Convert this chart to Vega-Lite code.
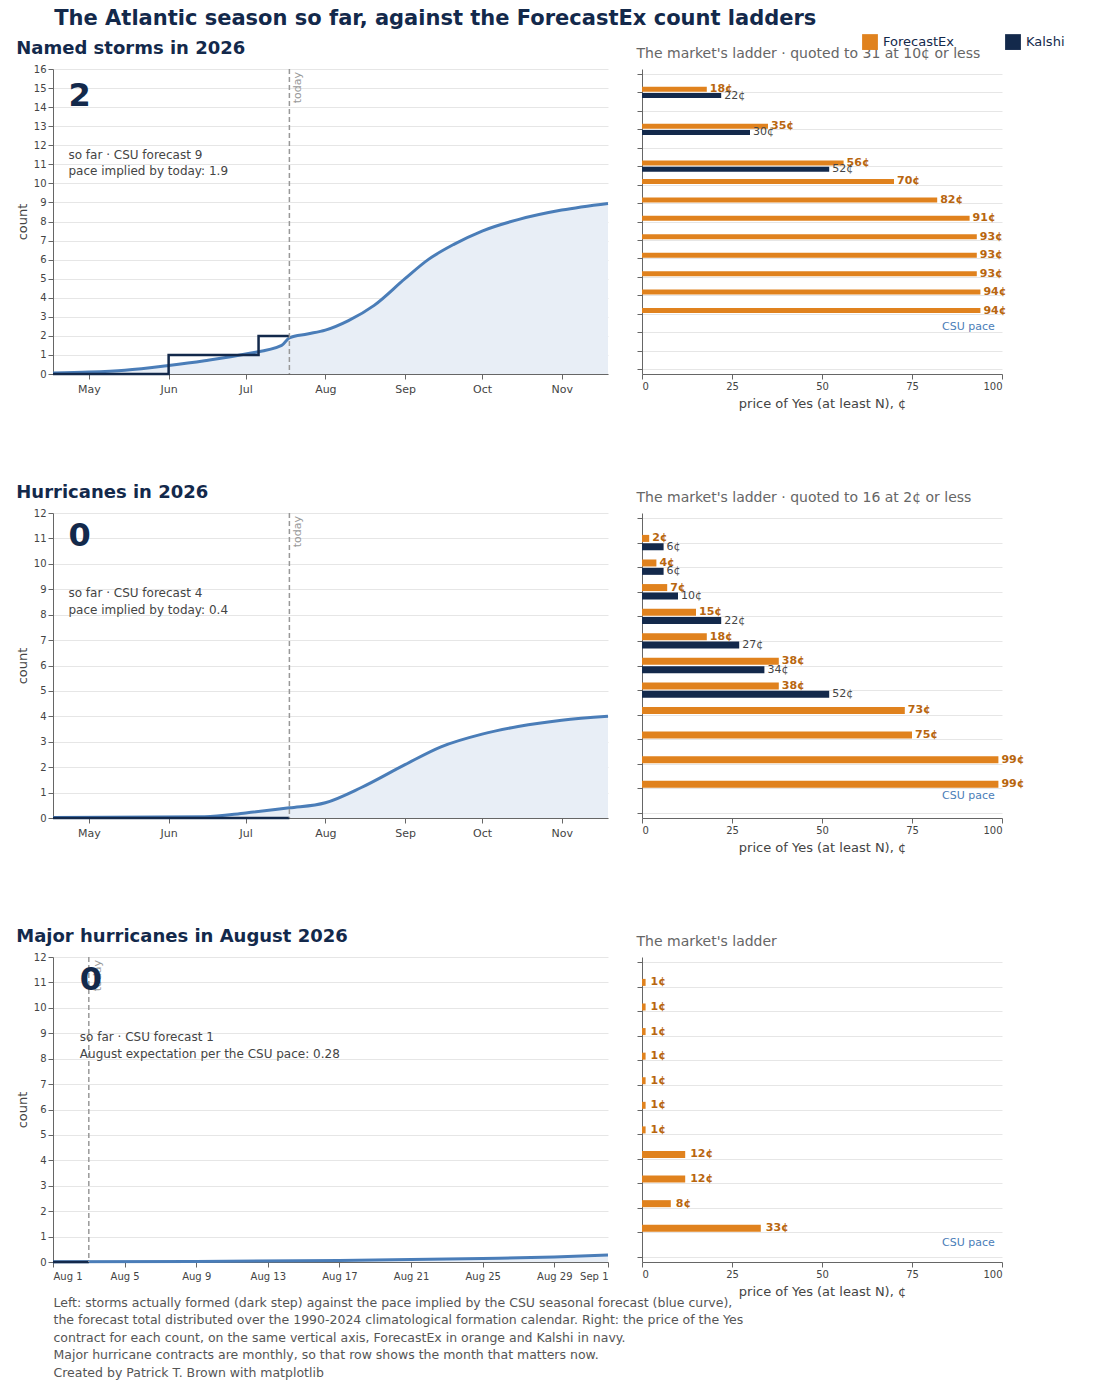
{
  "$schema": "https://vega.github.io/schema/vega-lite/v6.json",
  "background": "white",
  "padding": {"left": 16, "top": 8, "right": 10, "bottom": 2},
  "config": {
    "font": "DejaVu Sans",
    "view": {"stroke": null},
    "axis": {"labelColor": "#444", "titleColor": "#444", "labelFontSize": 11, "titleFontSize": 13, "titleFontWeight": "normal", "gridColor": "#e6e6e6", "domainColor": "#666", "tickColor": "#666"},
    "title": {"anchor": "start"}
  },
  "title": {"text": "The Atlantic season so far, against the ForecastEx count ladders", "fontSize": 21, "fontWeight": "bold", "color": "#13294B", "offset": 4, "dx": 38},
  "datasets": {
    "ns_curve": [
      {"date": "2026-04-17", "v": 0.05}, {"date": "2026-05-01", "v": 0.1}, {"date": "2026-05-15", "v": 0.2}, {"date": "2026-06-01", "v": 0.45}, {"date": "2026-06-15", "v": 0.7}, {"date": "2026-07-01", "v": 1.05}, {"date": "2026-07-15", "v": 1.5}, {"date": "2026-07-18", "v": 1.9}, {"date": "2026-07-25", "v": 2.1}, {"date": "2026-08-01", "v": 2.3}, {"date": "2026-08-10", "v": 2.8}, {"date": "2026-08-20", "v": 3.6}, {"date": "2026-09-01", "v": 5.0}, {"date": "2026-09-10", "v": 6.0}, {"date": "2026-09-20", "v": 6.8}, {"date": "2026-10-01", "v": 7.5}, {"date": "2026-10-15", "v": 8.1}, {"date": "2026-11-01", "v": 8.6}, {"date": "2026-11-19", "v": 8.95}
    ],
    "ns_obs": [
      {"date": "2026-04-17", "v": 0}, {"date": "2026-06-01", "v": 1}, {"date": "2026-07-06", "v": 2}, {"date": "2026-07-18", "v": 2}
    ],
    "ns_bars": [
      {"n": 15, "y": 15.17, "market": "ForecastEx", "price": 18}, {"n": 15, "y": 14.83, "market": "Kalshi", "price": 22},
      {"n": 13, "y": 13.17, "market": "ForecastEx", "price": 35}, {"n": 13, "y": 12.83, "market": "Kalshi", "price": 30},
      {"n": 11, "y": 11.17, "market": "ForecastEx", "price": 56}, {"n": 11, "y": 10.83, "market": "Kalshi", "price": 52},
      {"n": 10, "y": 10.17, "market": "ForecastEx", "price": 70}, {"n": 9, "y": 9.17, "market": "ForecastEx", "price": 82},
      {"n": 8, "y": 8.17, "market": "ForecastEx", "price": 91}, {"n": 7, "y": 7.17, "market": "ForecastEx", "price": 93},
      {"n": 6, "y": 6.17, "market": "ForecastEx", "price": 93}, {"n": 5, "y": 5.17, "market": "ForecastEx", "price": 93},
      {"n": 4, "y": 4.17, "market": "ForecastEx", "price": 94}, {"n": 3, "y": 3.17, "market": "ForecastEx", "price": 94}
    ],
    "hu_curve": [
      {"date": "2026-04-17", "v": 0.02}, {"date": "2026-06-15", "v": 0.05}, {"date": "2026-07-01", "v": 0.2}, {"date": "2026-07-18", "v": 0.4}, {"date": "2026-08-01", "v": 0.6}, {"date": "2026-08-15", "v": 1.2}, {"date": "2026-09-01", "v": 2.1}, {"date": "2026-09-15", "v": 2.8}, {"date": "2026-10-01", "v": 3.3}, {"date": "2026-10-15", "v": 3.6}, {"date": "2026-11-01", "v": 3.85}, {"date": "2026-11-19", "v": 4.0}
    ],
    "hu_obs": [{"date": "2026-04-17", "v": 0}, {"date": "2026-07-18", "v": 0}],
    "hu_bars": [
      {"n": 11, "y": 11.17, "market": "ForecastEx", "price": 2}, {"n": 11, "y": 10.83, "market": "Kalshi", "price": 6},
      {"n": 10, "y": 10.17, "market": "ForecastEx", "price": 4}, {"n": 10, "y": 9.83, "market": "Kalshi", "price": 6},
      {"n": 9, "y": 9.17, "market": "ForecastEx", "price": 7}, {"n": 9, "y": 8.83, "market": "Kalshi", "price": 10},
      {"n": 8, "y": 8.17, "market": "ForecastEx", "price": 15}, {"n": 8, "y": 7.83, "market": "Kalshi", "price": 22},
      {"n": 7, "y": 7.17, "market": "ForecastEx", "price": 18}, {"n": 7, "y": 6.83, "market": "Kalshi", "price": 27},
      {"n": 6, "y": 6.17, "market": "ForecastEx", "price": 38}, {"n": 6, "y": 5.83, "market": "Kalshi", "price": 34},
      {"n": 5, "y": 5.17, "market": "ForecastEx", "price": 38}, {"n": 5, "y": 4.83, "market": "Kalshi", "price": 52},
      {"n": 4, "y": 4.17, "market": "ForecastEx", "price": 73}, {"n": 3, "y": 3.17, "market": "ForecastEx", "price": 75},
      {"n": 2, "y": 2.17, "market": "ForecastEx", "price": 99}, {"n": 1, "y": 1.17, "market": "ForecastEx", "price": 99}
    ],
    "mh_curve": [
      {"date": "2026-08-01", "v": 0.01}, {"date": "2026-08-09", "v": 0.02}, {"date": "2026-08-17", "v": 0.06}, {"date": "2026-08-25", "v": 0.14}, {"date": "2026-08-29", "v": 0.2}, {"date": "2026-09-01", "v": 0.28}
    ],
    "mh_obs": [{"date": "2026-08-01", "v": 0}, {"date": "2026-08-03", "v": 0}],
    "mh_bars": [
      {"n": 11, "y": 11.17, "market": "ForecastEx", "price": 1}, {"n": 10, "y": 10.17, "market": "ForecastEx", "price": 1},
      {"n": 9, "y": 9.17, "market": "ForecastEx", "price": 1}, {"n": 8, "y": 8.17, "market": "ForecastEx", "price": 1},
      {"n": 7, "y": 7.17, "market": "ForecastEx", "price": 1}, {"n": 6, "y": 6.17, "market": "ForecastEx", "price": 1},
      {"n": 5, "y": 5.17, "market": "ForecastEx", "price": 1}, {"n": 4, "y": 4.17, "market": "ForecastEx", "price": 12},
      {"n": 3, "y": 3.17, "market": "ForecastEx", "price": 12}, {"n": 2, "y": 2.17, "market": "ForecastEx", "price": 8},
      {"n": 1, "y": 1.17, "market": "ForecastEx", "price": 33}
    ]
  },
  "vconcat": [
    {
      "hconcat": [
        {
          "width": 555, "height": 305,
          "title": {"text": "Named storms in 2026", "fontSize": 18, "fontWeight": "bold", "color": "#13294B", "offset": 6},
          "encoding": {
            "x": {"field": "date", "type": "temporal", "scale": {"domain": ["2026-04-17", "2026-11-19"]}, "axis": {"format": "%b", "tickCount": "month", "grid": false, "title": null, "labelPadding": 4}},
            "y": {"field": "v", "type": "quantitative", "scale": {"domain": [0, 16], "nice": false}, "axis": {"values": [0,1,2,3,4,5,6,7,8,9,10,11,12,13,14,15,16], "title": "count", "labelFontSize": 10}}
          },
          "layer": [
            {"data": {"name": "ns_curve"}, "mark": {"type": "area", "color": "#E8EEF6", "interpolate": "monotone"}},
            {"data": {"name": "ns_curve"}, "mark": {"type": "line", "color": "#4A7DB8", "strokeWidth": 3, "interpolate": "monotone"}},
            {"data": {"name": "ns_obs"}, "mark": {"type": "line", "interpolate": "step-after", "color": "#13294B", "strokeWidth": 2.5}},
            {"data": {"values": [{"date": "2026-07-18"}]}, "mark": {"type": "rule", "color": "#999", "strokeDash": [5, 3], "strokeWidth": 1.5}, "encoding": {"y": {"value": 0}, "y2": {"value": 305}}},
            {"data": {"values": [{"date": "2026-07-18", "t": "today"}]}, "mark": {"type": "text", "angle": 270, "align": "right", "baseline": "top", "dx": -3, "dy": 3, "color": "#999", "fontSize": 11}, "encoding": {"y": {"value": 0}, "text": {"field": "t"}}},
            {"data": {"values": [{"date": "2026-04-23", "v": 14.6, "t": "2"}]}, "mark": {"type": "text", "align": "left", "fontSize": 32, "fontWeight": "bold", "color": "#13294B"}, "encoding": {"text": {"field": "t"}}},
            {"data": {"values": [{"date": "2026-04-23", "v": 11.5, "t": "so far · CSU forecast 9"}, {"date": "2026-04-23", "v": 10.65, "t": "pace implied by today: 1.9"}]}, "mark": {"type": "text", "align": "left", "fontSize": 12, "color": "#444"}, "encoding": {"text": {"field": "t"}}}
          ]
        },
        {
          "width": 360, "height": 305,
          "title": {"text": "The market's ladder  ·  quoted to 31 at 10¢ or less", "fontSize": 14, "fontWeight": "normal", "color": "#666", "offset": 8},
          "data": {"name": "ns_bars"},
          "encoding": {
            "x": {"field": "price", "type": "quantitative", "scale": {"domain": [0, 100], "nice": false}, "axis": {"values": [0, 25, 50, 75, 100], "grid": false, "title": "price of Yes (at least N), ¢", "labelFontSize": 10, "titlePadding": 6}},
            "y": {"field": "y", "type": "quantitative", "scale": {"domain": [0, 16], "nice": false}, "axis": {"values": [0,1,2,3,4,5,6,7,8,9,10,11,12,13,14,15,16], "labels": false, "title": null}}
          },
          "layer": [
            {"mark": {"type": "bar", "height": 5, "orient": "horizontal"}, "encoding": {"x2": {"datum": 0}, "color": {"field": "market", "type": "nominal", "scale": {"domain": ["ForecastEx", "Kalshi"], "range": ["#E0821E", "#13294B"]}, "legend": {"title": null, "orient": "none", "direction": "horizontal", "legendX": 808, "legendY": -36, "symbolType": "square", "symbolSize": 250, "labelFontSize": 13, "labelColor": "#13294B", "columnPadding": 50}}}},
            {"transform": [{"filter": "datum.market == 'ForecastEx'"}, {"calculate": "datum.price + '¢'", "as": "lab"}], "mark": {"type": "text", "align": "left", "dx": 3, "fontSize": 11, "fontWeight": "bold", "color": "#B8660F"}, "encoding": {"text": {"field": "lab"}}},
            {"transform": [{"filter": "datum.market == 'Kalshi'"}, {"calculate": "datum.price + '¢'", "as": "lab"}], "mark": {"type": "text", "align": "left", "dx": 3, "fontSize": 11, "color": "#444"}, "encoding": {"text": {"field": "lab"}}},
            {"data": {"values": [{"y": 1.9}]}, "mark": {"type": "rule", "color": "#4A7DB8", "strokeDash": [6, 4], "strokeWidth": 2}, "encoding": {"x": {"datum": 0}, "x2": {"datum": 100}}},
            {"data": {"values": [{"y": 1.9, "price": 98, "t": "CSU pace"}]}, "mark": {"type": "text", "align": "right", "baseline": "bottom", "dy": -2, "fontSize": 11, "color": "#4A7DB8"}, "encoding": {"text": {"field": "t"}}}
          ]
        }
      ], "spacing": 22
    },
    {
      "hconcat": [
        {
          "width": 555, "height": 305,
          "title": {"text": "Hurricanes in 2026", "fontSize": 18, "fontWeight": "bold", "color": "#13294B", "offset": 6},
          "encoding": {
            "x": {"field": "date", "type": "temporal", "scale": {"domain": ["2026-04-17", "2026-11-19"]}, "axis": {"format": "%b", "tickCount": "month", "grid": false, "title": null, "labelPadding": 4}},
            "y": {"field": "v", "type": "quantitative", "scale": {"domain": [0, 12], "nice": false}, "axis": {"values": [0,1,2,3,4,5,6,7,8,9,10,11,12], "title": "count", "labelFontSize": 10}}
          },
          "layer": [
            {"data": {"name": "hu_curve"}, "mark": {"type": "area", "color": "#E8EEF6", "interpolate": "monotone"}},
            {"data": {"name": "hu_curve"}, "mark": {"type": "line", "color": "#4A7DB8", "strokeWidth": 3, "interpolate": "monotone"}},
            {"data": {"name": "hu_obs"}, "mark": {"type": "line", "interpolate": "step-after", "color": "#13294B", "strokeWidth": 2.5}},
            {"data": {"values": [{"date": "2026-07-18"}]}, "mark": {"type": "rule", "color": "#999", "strokeDash": [5, 3], "strokeWidth": 1.5}, "encoding": {"y": {"value": 0}, "y2": {"value": 305}}},
            {"data": {"values": [{"date": "2026-07-18", "t": "today"}]}, "mark": {"type": "text", "angle": 270, "align": "right", "baseline": "top", "dx": -3, "dy": 3, "color": "#999", "fontSize": 11}, "encoding": {"y": {"value": 0}, "text": {"field": "t"}}},
            {"data": {"values": [{"date": "2026-04-23", "v": 11.1, "t": "0"}]}, "mark": {"type": "text", "align": "left", "fontSize": 32, "fontWeight": "bold", "color": "#13294B"}, "encoding": {"text": {"field": "t"}}},
            {"data": {"values": [{"date": "2026-04-23", "v": 8.85, "t": "so far · CSU forecast 4"}, {"date": "2026-04-23", "v": 8.2, "t": "pace implied by today: 0.4"}]}, "mark": {"type": "text", "align": "left", "fontSize": 12, "color": "#444"}, "encoding": {"text": {"field": "t"}}}
          ]
        },
        {
          "width": 360, "height": 305,
          "title": {"text": "The market's ladder  ·  quoted to 16 at 2¢ or less", "fontSize": 14, "fontWeight": "normal", "color": "#666", "offset": 8},
          "data": {"name": "hu_bars"},
          "encoding": {
            "x": {"field": "price", "type": "quantitative", "scale": {"domain": [0, 100], "nice": false}, "axis": {"values": [0, 25, 50, 75, 100], "grid": false, "title": "price of Yes (at least N), ¢", "labelFontSize": 10, "titlePadding": 6}},
            "y": {"field": "y", "type": "quantitative", "scale": {"domain": [0, 12], "nice": false}, "axis": {"values": [0,1,2,3,4,5,6,7,8,9,10,11,12], "labels": false, "title": null}}
          },
          "layer": [
            {"mark": {"type": "bar", "height": 7, "orient": "horizontal"}, "encoding": {"x2": {"datum": 0}, "color": {"field": "market", "type": "nominal", "legend": null}}},
            {"transform": [{"filter": "datum.market == 'ForecastEx'"}, {"calculate": "datum.price + '¢'", "as": "lab"}], "mark": {"type": "text", "align": "left", "dx": 3, "fontSize": 11, "fontWeight": "bold", "color": "#B8660F"}, "encoding": {"text": {"field": "lab"}}},
            {"transform": [{"filter": "datum.market == 'Kalshi'"}, {"calculate": "datum.price + '¢'", "as": "lab"}], "mark": {"type": "text", "align": "left", "dx": 3, "fontSize": 11, "color": "#444"}, "encoding": {"text": {"field": "lab"}}},
            {"data": {"values": [{"y": 0.4}]}, "mark": {"type": "rule", "color": "#4A7DB8", "strokeDash": [6, 4], "strokeWidth": 2}, "encoding": {"x": {"datum": 0}, "x2": {"datum": 100}}},
            {"data": {"values": [{"y": 0.4, "price": 98, "t": "CSU pace"}]}, "mark": {"type": "text", "align": "right", "baseline": "bottom", "dy": -2, "fontSize": 11, "color": "#4A7DB8"}, "encoding": {"text": {"field": "t"}}}
          ]
        }
      ], "spacing": 22
    },
    {
      "bounds": "flush",
      "hconcat": [
        {
          "width": 555, "height": 305,
          "title": {"text": "Major hurricanes in August 2026", "fontSize": 18, "fontWeight": "bold", "color": "#13294B", "offset": 6},
          "encoding": {
            "x": {"field": "date", "type": "temporal", "scale": {"domain": ["2026-08-01", "2026-09-01"]}, "axis": {"format": "%b %-d", "values": [{"year": 2026, "month": 8, "date": 1}, {"year": 2026, "month": 8, "date": 5}, {"year": 2026, "month": 8, "date": 9}, {"year": 2026, "month": 8, "date": 13}, {"year": 2026, "month": 8, "date": 17}, {"year": 2026, "month": 8, "date": 21}, {"year": 2026, "month": 8, "date": 25}, {"year": 2026, "month": 8, "date": 29}, {"year": 2026, "month": 9, "date": 1}], "grid": false, "labelFontSize": 10, "labelPadding": 4,
              "title": ["Left: storms actually formed (dark step) against the pace implied by the CSU seasonal forecast (blue curve),", "the forecast total distributed over the 1990-2024 climatological formation calendar. Right: the price of the Yes", "contract for each count, on the same vertical axis, ForecastEx in orange and Kalshi in navy.", "Major hurricane contracts are monthly, so that row shows the month that matters now.", "Created by Patrick T. Brown with matplotlib"],
              "titleAnchor": "start", "titleAlign": "left", "titleBaseline": "top", "titleX": 0, "titleY": 34, "titleFontSize": 12.5, "titleColor": "#555", "titleLineHeight": 17.5}},
            "y": {"field": "v", "type": "quantitative", "scale": {"domain": [0, 12], "nice": false}, "axis": {"values": [0,1,2,3,4,5,6,7,8,9,10,11,12], "title": "count", "labelFontSize": 10}}
          },
          "layer": [
            {"data": {"name": "mh_curve"}, "mark": {"type": "area", "color": "#E8EEF6", "interpolate": "monotone"}},
            {"data": {"name": "mh_curve"}, "mark": {"type": "line", "color": "#4A7DB8", "strokeWidth": 3, "interpolate": "monotone"}},
            {"data": {"name": "mh_obs"}, "mark": {"type": "line", "interpolate": "step-after", "color": "#13294B", "strokeWidth": 2.5}},
            {"data": {"values": [{"date": "2026-08-03"}]}, "mark": {"type": "rule", "color": "#999", "strokeDash": [5, 3], "strokeWidth": 1.5}, "encoding": {"y": {"value": 0}, "y2": {"value": 305}}},
            {"data": {"values": [{"date": "2026-08-03", "t": "today"}]}, "mark": {"type": "text", "angle": 270, "align": "right", "baseline": "top", "dx": -3, "dy": 3, "color": "#999", "fontSize": 11}, "encoding": {"y": {"value": 0}, "text": {"field": "t"}}},
            {"data": {"values": [{"date": "2026-08-02T12:00", "v": 11.1, "t": "0"}]}, "mark": {"type": "text", "align": "left", "fontSize": 32, "fontWeight": "bold", "color": "#13294B"}, "encoding": {"text": {"field": "t"}}},
            {"data": {"values": [{"date": "2026-08-02T12:00", "v": 8.85, "t": "so far · CSU forecast 1"}, {"date": "2026-08-02T12:00", "v": 8.2, "t": "August expectation per the CSU pace: 0.28"}]}, "mark": {"type": "text", "align": "left", "fontSize": 12, "color": "#444"}, "encoding": {"text": {"field": "t"}}}
          ]
        },
        {
          "width": 360, "height": 305,
          "title": {"text": "The market's ladder", "fontSize": 14, "fontWeight": "normal", "color": "#666", "offset": 8},
          "data": {"name": "mh_bars"},
          "encoding": {
            "x": {"field": "price", "type": "quantitative", "scale": {"domain": [0, 100], "nice": false}, "axis": {"values": [0, 25, 50, 75, 100], "grid": false, "title": "price of Yes (at least N), ¢", "labelFontSize": 10, "titlePadding": 6}},
            "y": {"field": "y", "type": "quantitative", "scale": {"domain": [0, 12], "nice": false}, "axis": {"values": [0,1,2,3,4,5,6,7,8,9,10,11,12], "labels": false, "title": null}}
          },
          "layer": [
            {"mark": {"type": "bar", "height": 7, "orient": "horizontal"}, "encoding": {"x2": {"datum": 0}, "color": {"field": "market", "type": "nominal", "legend": null}}},
            {"transform": [{"calculate": "datum.price + '¢'", "as": "lab"}], "mark": {"type": "text", "align": "left", "dx": 5, "fontSize": 11, "fontWeight": "bold", "color": "#B8660F"}, "encoding": {"text": {"field": "lab"}}},
            {"data": {"values": [{"y": 0.28}]}, "mark": {"type": "rule", "color": "#4A7DB8", "strokeDash": [6, 4], "strokeWidth": 2}, "encoding": {"x": {"datum": 0}, "x2": {"datum": 100}}},
            {"data": {"values": [{"y": 0.28, "price": 98, "t": "CSU pace"}]}, "mark": {"type": "text", "align": "right", "baseline": "bottom", "dy": -2, "fontSize": 11, "color": "#4A7DB8"}, "encoding": {"text": {"field": "t"}}}
          ]
        }
      ], "spacing": 34
    }
  ],
  "spacing": 74
}
